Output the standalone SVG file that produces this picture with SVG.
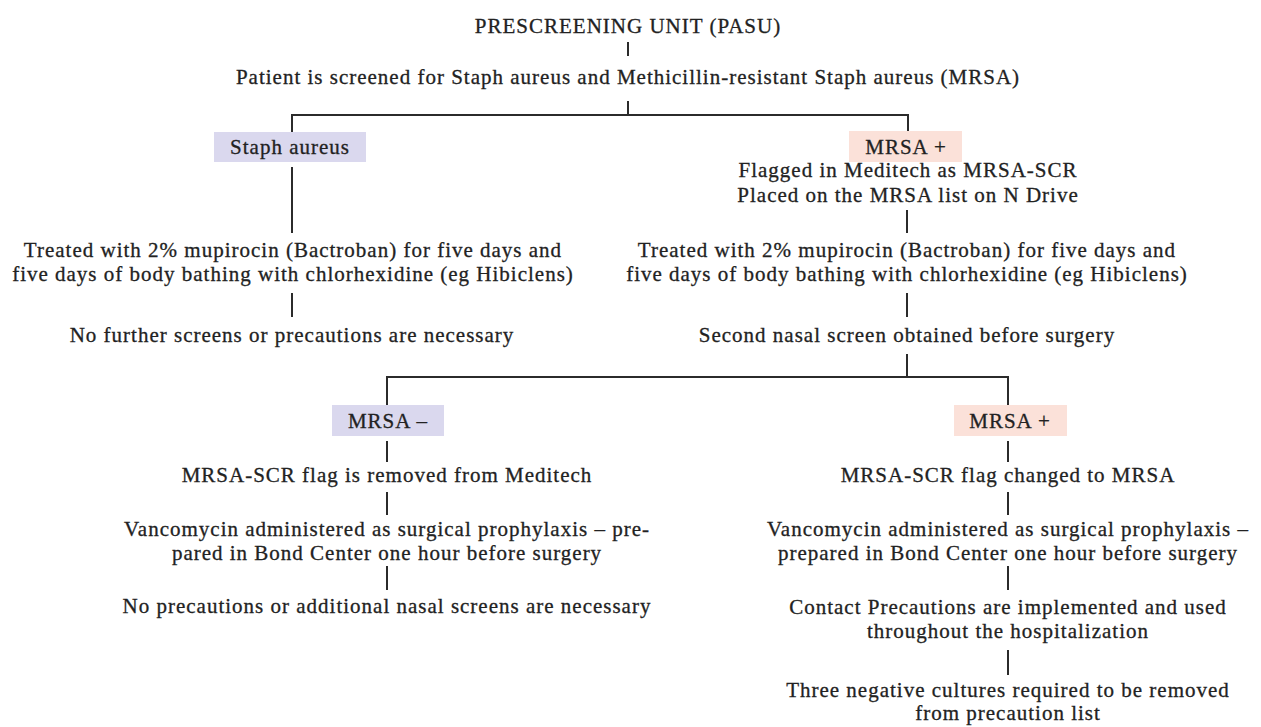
<svg xmlns="http://www.w3.org/2000/svg" width="1261" height="727" viewBox="0 0 1261 727">
<style>
text{font-family:"Liberation Serif","Times New Roman",serif;font-size:21px;letter-spacing:1px;fill:#222222;stroke:#222222;stroke-width:0.3;text-anchor:middle}
.c{stroke:#2b2b2b;stroke-width:2;fill:none}
.lav{fill:#dad8ee}
.pink{fill:#fbe1d9}
</style>
<rect width="1261" height="727" fill="#ffffff"/>
<g id="connectors">
<path class="c" d="M628 42V56"/>
<path class="c" d="M628 101V115M292 132V115H908V132"/>
<path class="c" d="M292 167V233"/>
<path class="c" d="M907 210V233"/>
<path class="c" d="M292 293V317"/>
<path class="c" d="M907 293V317"/>
<path class="c" d="M907 354V377M387 405V377H1008V405"/>
<path class="c" d="M387 441V462M387 492V515M387 566V590"/>
<path class="c" d="M1008 441V462M1008 492V515M1008 566V590M1008 650V675"/>
</g>
<g id="title"><text x="628" y="33">PRESCREENING UNIT (PASU)</text></g>
<g id="screen"><text x="628" y="84">Patient is screened for Staph aureus and Methicillin-resistant Staph aureus (MRSA)</text></g>
<g id="staph"><rect class="lav" x="214" y="132" width="152" height="30"/><text x="290" y="154">Staph aureus</text></g>
<g id="mrsa-pos1"><rect class="pink" x="849" y="131" width="113" height="31"/><text x="906" y="154">MRSA +</text>
<text x="908" y="177">Flagged in Meditech as MRSA-SCR</text>
<text x="908" y="202">Placed on the MRSA list on N Drive</text></g>
<g id="treat-left"><text x="293" y="257">Treated with 2% mupirocin (Bactroban) for five days and</text>
<text x="293" y="281">five days of body bathing with chlorhexidine (eg Hibiclens)</text></g>
<g id="nofurther"><text x="292" y="342">No further screens or precautions are necessary</text></g>
<g id="treat-right"><text x="907" y="257">Treated with 2% mupirocin (Bactroban) for five days and</text>
<text x="907" y="281">five days of body bathing with chlorhexidine (eg Hibiclens)</text></g>
<g id="second"><text x="907" y="342">Second nasal screen obtained before surgery</text></g>
<g id="mrsa-neg"><rect class="lav" x="332" y="405" width="112" height="31"/><text x="388" y="428">MRSA –</text></g>
<g id="mrsa-pos2"><rect class="pink" x="954" y="405" width="113" height="31"/><text x="1010" y="428">MRSA +</text></g>
<g id="flag-removed"><text x="387" y="482">MRSA-SCR flag is removed from Meditech</text></g>
<g id="vanco-left"><text x="387" y="536">Vancomycin administered as surgical prophylaxis – pre-</text>
<text x="387" y="560">pared in Bond Center one hour before surgery</text></g>
<g id="noprec"><text x="387" y="613">No precautions or additional nasal screens are necessary</text></g>
<g id="flag-changed"><text x="1008" y="482">MRSA-SCR flag changed to MRSA</text></g>
<g id="vanco-right"><text x="1008" y="536">Vancomycin administered as surgical prophylaxis –</text>
<text x="1008" y="560">prepared in Bond Center one hour before surgery</text></g>
<g id="contact"><text x="1008" y="614">Contact Precautions are implemented and used</text>
<text x="1008" y="638">throughout the hospitalization</text></g>
<g id="three"><text x="1008" y="697">Three negative cultures required to be removed</text>
<text x="1008" y="720">from precaution list</text></g>
</svg>
